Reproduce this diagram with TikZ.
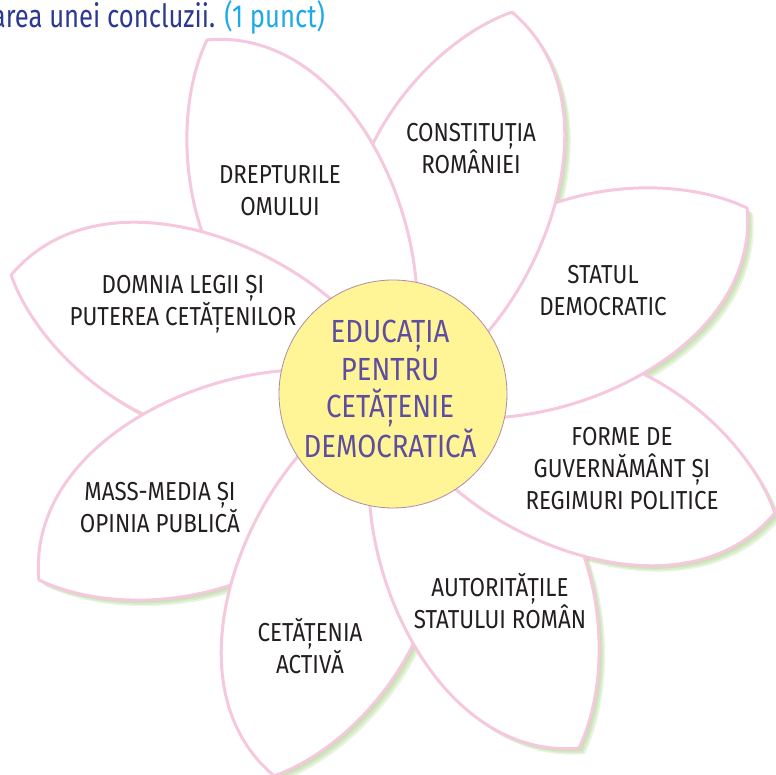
\documentclass[tikz,border=0pt]{standalone}
\usepackage{fontspec}
\setmainfont{Fira Sans}[FakeStretch=0.86]
\newfontfamily\headfont{Fira Sans}[FakeStretch=0.8]
\usetikzlibrary{positioning}
\definecolor{petalpink}{RGB}{246, 200, 222}
\definecolor{leafgreen}{RGB}{150, 200, 110}
\definecolor{hubyellow}{RGB}{255, 245, 150}
\definecolor{hubedge}{RGB}{175, 140, 165}
\definecolor{hubpurple}{RGB}{94, 78, 160}
\definecolor{inkgray}{RGB}{35, 31, 32}
\definecolor{headblue}{RGB}{43, 57, 144}
\definecolor{pointblue}{RGB}{30, 170, 230}
\newcommand{\petalpath}{(0,0) .. controls (50,-105) and (335,-155) .. (400,0)
  .. controls (335,88) and (130,165) .. cycle}

\begin{document}
\begin{tikzpicture}[x=1pt, y=1pt,
  petal/.style={draw=petalpink, fill=white, line width=3pt, line join=round},
  glow/.style={fill=leafgreen, opacity=0.2},
  hub/.style={circle, minimum size=228pt, inner sep=0pt, fill=hubyellow,
              draw=hubedge, line width=0.8pt},
  hubtext/.style={align=center, text=hubpurple, inner sep=0pt,
                  font=\fontsize{32}{37.5}\selectfont},
  lbl/.style={align=center, text=inkgray, inner sep=0pt,
              font=\fontsize{26}{32}\selectfont}
]
\useasboundingbox (0,0) rectangle (776,775);
\clip (0,0) rectangle (776,775);

% green glow under the petals
\foreach \a in {27.7,72.7,117.7,162.7,207.7,252.7,297.7,342.7}
  \foreach \s in {1.5,3,4.5,6}
    \fill[glow, shift={(393+\s,381-\s)}, rotate=\a] \petalpath;

% petals, each one over its clockwise neighbour
\foreach \a in {27.7,72.7,117.7,162.7,207.7,252.7,297.7,342.7}
  \path[petal, shift={(393,381)}, rotate=\a] \petalpath;
\begin{scope}
  \clip (393,381) -- ++(-15:500) arc[start angle=-15, end angle=24, radius=500] -- cycle;
  \path[petal, shift={(393,381)}, rotate=27.7] \petalpath;
\end{scope}

\node[hub] (hub) at (393,381) {};
\node[hubtext] (title) at (390,386) {EDUCAȚIA\\PENTRU\\CETĂȚENIE\\DEMOCRATICĂ};

\node[lbl] (drepturi)   at (280,584) {DREPTURILE\\OMULUI};
\node[lbl] (constitutie) at (471,626) {CONSTITUȚIA\\ROMÂNIEI};
\node[lbl] (statul)     at (603,484) {STATUL\\DEMOCRATIC};
\node[lbl] (forme)      at (622,306) {FORME DE\\GUVERNĂMÂNT ȘI\\REGIMURI POLITICE};
\node[lbl] (autoritati) at (500,174) {AUTORITĂȚILE\\STATULUI ROMÂN};
\node[lbl] (cetatenia)  at (310,129) {CETĂȚENIA\\ACTIVĂ};
\node[lbl] (media)      at (160,267) {MASS-MEDIA ȘI\\OPINIA PUBLICĂ};
\node[lbl] (domnia)     at (183,471) {DOMNIA LEGII ȘI\\PUTEREA CETĂȚENILOR};

\node[anchor=base east, inner sep=0pt, font=\headfont\fontsize{32}{38}\selectfont] (task)
  at (325,747) {\textcolor{headblue}{area unei concluzii.} \textcolor{pointblue}{(1 punct)}};
\end{tikzpicture}
\end{document}
